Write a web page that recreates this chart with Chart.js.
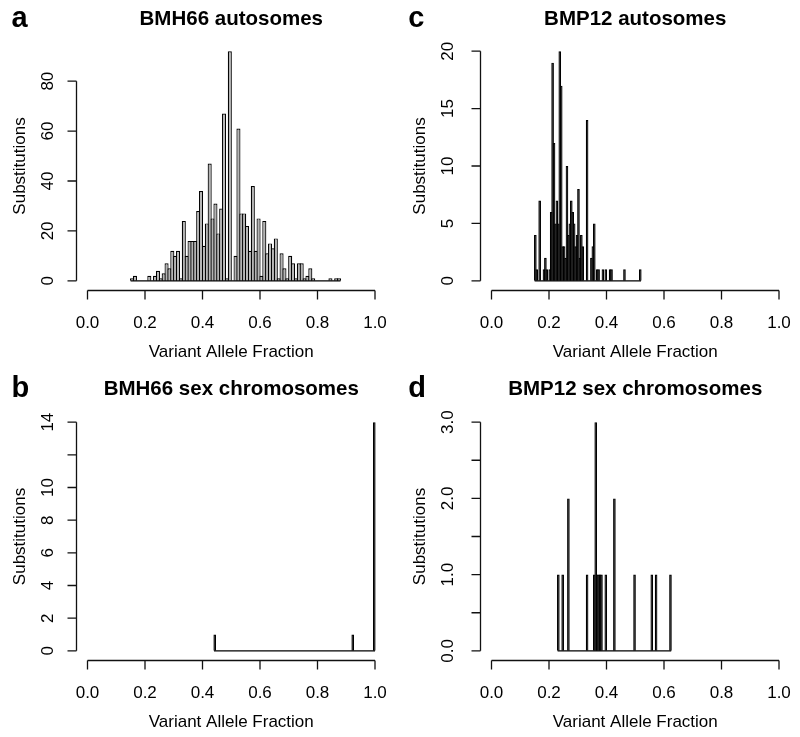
<!DOCTYPE html>
<html>
<head>
<meta charset="utf-8">
<script src="https://cdn.jsdelivr.net/npm/chart.js@4.4.1/dist/chart.umd.min.js"></script>
<style>
  html, body { margin: 0; padding: 0; background: #fff; }
  #wrap { position: relative; width: 800px; height: 737px; }
  canvas { position: absolute; }
</style>
</head>
<body>
<div id="wrap">
  <canvas id="pa" width="400" height="370" style="left:0;top:0"></canvas>
  <canvas id="pc" width="400" height="370" style="left:400px;top:0"></canvas>
  <canvas id="pb" width="400" height="367" style="left:0;top:370px"></canvas>
  <canvas id="pd" width="400" height="367" style="left:400px;top:370px"></canvas>
</div>
<script>
// histogram bins: lower edge of each non-empty bin and its count
var aBins = [0.15,0.16,0.21,0.23,0.24,0.25,0.26,0.27,0.28,0.29,0.30,0.31,0.32,0.33,0.34,0.35,0.36,0.37,0.38,0.39,
             0.40,0.41,0.42,0.43,0.44,0.45,0.46,0.47,0.48,0.49,0.51,0.52,0.53,0.54,0.55,0.56,0.57,0.58,0.59,0.60,
             0.61,0.62,0.63,0.64,0.65,0.66,0.67,0.68,0.69,0.70,0.71,0.72,0.73,0.74,0.75,0.76,0.77,0.78,0.84,0.86,0.87];
var aCounts = [1,2,2,2,4,1,3,7,5,12,10,12,1,24,10,16,16,16,28,36,
               14,23,47,25,31,19,29,67,1,92,10,61,27,27,22,12,38,12,25,2,
               24,11,15,13,17,1,11,5,1,10,7,1,7,7,1,2,5,1,1,1,1];
var aRange = [0.15, 0.88];

var cBins = [0.150,0.155,0.165,0.180,0.185,0.190,0.200,0.205,0.210,0.215,0.220,0.225,0.230,0.235,0.240,0.245,0.250,
             0.255,0.260,0.265,0.270,0.275,0.280,0.285,0.290,0.295,0.300,0.305,0.310,0.315,0.330,0.345,0.350,0.355,
             0.365,0.370,0.385,0.395,0.410,0.415,0.460,0.515];
var cCounts = [4,1,7,1,2,1,1,6,19,12,5,7,5,20,17,3,3,
               2,10,4,5,7,6,5,3,4,8,2,4,3,14,2,3,5,
               1,1,1,1,1,1,1,1];
var cRange = [0.15, 0.52];

var bBins = [0.440, 0.920, 0.995];
var bCounts = [1, 1, 14];
var bRange = [0.44, 1.0];

var dBins = [0.230,0.245,0.265,0.330,0.355,0.360,0.365,0.370,0.375,0.380,0.395,0.425,0.495,0.555,0.570,0.620];
var dCounts = [1,1,2,1,1,3,1,1,1,1,1,2,1,1,1,1];
var dRange = [0.23, 0.625];

var binWidthA = 0.01;
var binWidthSmall = 0.005;

var xTicks = [0, 0.2, 0.4, 0.6, 0.8, 1.0];
var xTickLabels = ['0.0', '0.2', '0.4', '0.6', '0.8', '1.0'];
var aYTicks = [0, 20, 40, 60, 80];
var aYLabels = ['0', '20', '40', '60', '80'];
var cYTicks = [0, 5, 10, 15, 20];
var cYLabels = ['0', '5', '10', '15', '20'];
var bYTicks = [0, 2, 4, 6, 8, 10, 12, 14];
var bYLabels = ['0', '2', '4', '6', '8', '10', '', '14'];
var dYTicks = [0, 0.5, 1, 1.5, 2, 2.5, 3];
var dYLabels = ['0.0', '', '1.0', '', '2.0', '', '3.0'];

var FONT = '"Liberation Sans", Arial, Helvetica, sans-serif';
var PLOT_W = 310.5;

function rAxes(p) {
    return {
        id: 'rAxes',
        afterDraw: function(chart) {
            var ctx = chart.ctx, xs = chart.scales.x, ys = chart.scales.y, area = chart.chartArea;
            ctx.save();
            ctx.strokeStyle = '#111';
            ctx.fillStyle = '#000';
            ctx.lineWidth = 1.3;

            // x axis, only between first and last tick like R does
            var xa = Math.round(area.bottom) + 0.5;
            ctx.beginPath();
            ctx.moveTo(xs.getPixelForValue(xTicks[0]), xa);
            ctx.lineTo(xs.getPixelForValue(xTicks[xTicks.length - 1]), xa);
            xTicks.forEach(function(v) {
                var x = xs.getPixelForValue(v);
                ctx.moveTo(x, xa);
                ctx.lineTo(x, xa + 9);
            });
            // y axis
            var ya = Math.round(area.left) + 0.5;
            ctx.moveTo(ya, ys.getPixelForValue(p.yTicks[0]));
            ctx.lineTo(ya, ys.getPixelForValue(p.yTicks[p.yTicks.length - 1]));
            p.yTicks.forEach(function(v) {
                var y = ys.getPixelForValue(v);
                ctx.moveTo(ya, y);
                ctx.lineTo(ya - 9, y);
            });
            ctx.stroke();

            ctx.font = '17px ' + FONT;
            ctx.textAlign = 'center';
            ctx.textBaseline = 'alphabetic';
            xTicks.forEach(function(v, i) {
                ctx.fillText(xTickLabels[i], xs.getPixelForValue(v), area.bottom + 38);
            });
            ctx.fillText('Variant Allele Fraction', (xs.getPixelForValue(0) + xs.getPixelForValue(1)) / 2, area.bottom + 67);

            p.yTicks.forEach(function(v, i) {
                if (!p.yLabels[i]) return;
                ctx.save();
                ctx.translate(area.left - p.labOff, ys.getPixelForValue(v));
                ctx.rotate(-Math.PI / 2);
                ctx.fillText(p.yLabels[i], 0, 0);
                ctx.restore();
            });
            ctx.save();
            ctx.translate(area.left - p.titleOff, (area.top + area.bottom) / 2);
            ctx.rotate(-Math.PI / 2);
            ctx.fillText('Substitutions', 0, 0);
            ctx.restore();

            ctx.font = 'bold 20.5px ' + FONT;
            ctx.fillText(p.title, (area.left + area.right) / 2, 25);

            ctx.font = 'bold 29px ' + FONT;
            ctx.textAlign = 'left';
            ctx.fillText(p.letter, p.letterX, 27);
            ctx.restore();
        }
    };
}

function histPanel(id, p) {
    var binW = p.binWidth;
    var pts = p.bins.map(function(b, i) { return { x: b + binW / 2, y: p.counts[i] }; });
    var ymax = Math.max.apply(null, p.counts);
    var pxPerUnit = PLOT_W / 1.08;
    new Chart(document.getElementById(id), {
        type: 'bar',
        data: {
            datasets: [
                {
                    type: 'line',
                    data: [{ x: p.range[0], y: 0 }, { x: p.range[1], y: 0 }],
                    borderColor: '#000',
                    borderWidth: 1.2,
                    pointRadius: 0,
                    tension: 0
                },
                {
                    data: pts,
                    backgroundColor: p.fill,
                    borderColor: '#000',
                    borderWidth: { left: p.edge, right: p.edge, top: p.edge, bottom: 0 },
                    borderSkipped: false,
                    inflateAmount: 0,
                    barThickness: binW * pxPerUnit + p.edge
                }
            ]
        },
        options: {
            responsive: false,
            animation: false,
            events: [],
            layout: { padding: p.pad },
            plugins: { legend: { display: false }, tooltip: { enabled: false } },
            scales: {
                x: { type: 'linear', display: false, min: -0.04, max: 1.04, offset: false },
                y: { type: 'linear', display: false, min: -0.04 * ymax, max: 1.04 * ymax }
            }
        },
        plugins: [rAxes(p)]
    });
}

histPanel('pa', {
    bins: aBins, counts: aCounts, range: aRange, binWidth: binWidthA, fill: '#b4b4b4', edge: 1.2,
    yTicks: aYTicks, yLabels: aYLabels, title: 'BMH66 autosomes', letter: 'a', letterX: 11.5,
    labOff: 23, titleOff: 51, pad: { left: 76, right: 13.5, top: 42, bottom: 80 }
});
histPanel('pc', {
    bins: cBins, counts: cCounts, range: cRange, binWidth: binWidthSmall, fill: '#000', edge: 1.2,
    yTicks: cYTicks, yLabels: cYLabels, title: 'BMP12 autosomes', letter: 'c', letterX: 8.3,
    labOff: 27, titleOff: 55, pad: { left: 80, right: 9.5, top: 42, bottom: 80 }
});
histPanel('pb', {
    bins: bBins, counts: bCounts, range: bRange, binWidth: binWidthSmall, fill: '#000', edge: 1.2,
    yTicks: bYTicks, yLabels: bYLabels, title: 'BMH66 sex chromosomes', letter: 'b', letterX: 11.5,
    labOff: 23, titleOff: 51, pad: { left: 76, right: 13.5, top: 43, bottom: 77 }
});
histPanel('pd', {
    bins: dBins, counts: dCounts, range: dRange, binWidth: binWidthSmall, fill: '#000', edge: 1.2,
    yTicks: dYTicks, yLabels: dYLabels, title: 'BMP12 sex chromosomes', letter: 'd', letterX: 8.3,
    labOff: 27, titleOff: 55, pad: { left: 80, right: 9.5, top: 43, bottom: 77 }
});
</script>
</body>
</html>
